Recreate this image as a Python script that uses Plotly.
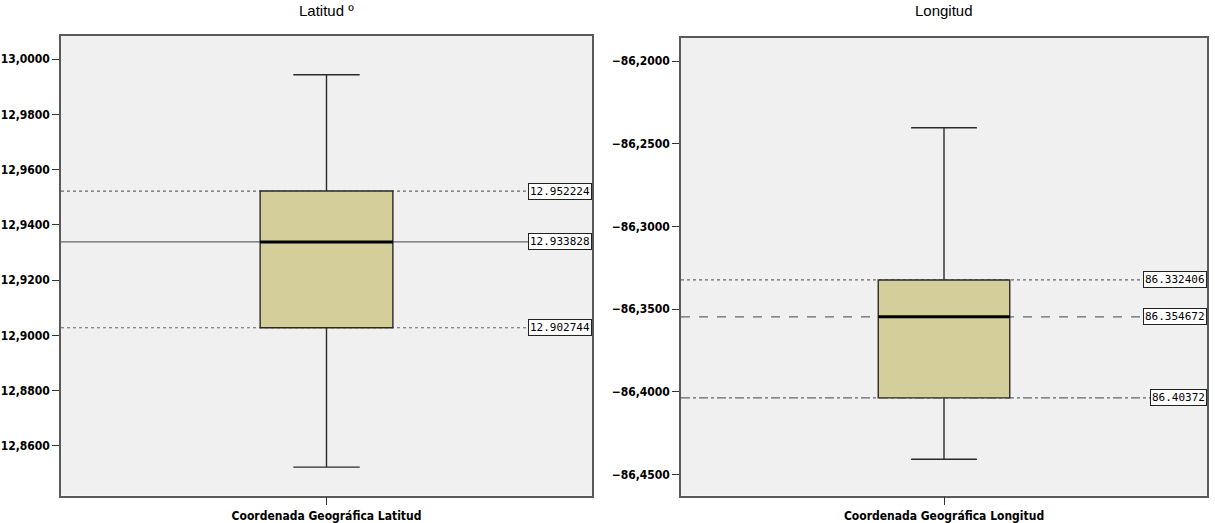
import plotly.graph_objects as go

# Summary statistics of the geographic coordinates
categories = ["Coordenada Geográfica Latitud", "Coordenada Geográfica Longitud"]
titles = ["Latitud º", "Longitud"]
q1_vals = [12.902744, -86.40372]
median_vals = [12.933828, -86.354672]
q3_vals = [12.952224, -86.332406]
lower_whisker = [12.8523, -86.4408]
upper_whisker = [12.9943, -86.2404]
y_ranges = [[12.8420, 13.0084], [-86.4628, -86.1860]]
tick_values = [
    [12.86, 12.88, 12.90, 12.92, 12.94, 12.96, 12.98, 13.00],
    [-86.45, -86.40, -86.35, -86.30, -86.25, -86.20],
]
# dash style of the Q3 / median / Q1 reference lines in each panel
ref_dashes = [["dot", "solid", "dot"], ["dot", "dash", "dashdot"]]

BOX_FILL = "#D3CE9A"
PLOT_BG = "#F0F0F0"
AXIS_FONT = "DejaVu Sans Condensed, Liberation Sans Narrow, Liberation Sans, sans-serif"
BOX_W = 0.25

x_domains = [[61 / 1215, 592 / 1215], [681 / 1215, 1207 / 1215]]
y_domains = [[1 - 497.5 / 523, 1 - 36 / 523], [1 - 497.5 / 523, 1 - 38 / 523]]

fig = go.Figure()
shapes = []
annotations = []

for i in range(2):
    xa = "x" if i == 0 else "x2"
    ya = "y" if i == 0 else "y2"
    fig.add_trace(go.Box(
        x=[categories[i]],
        q1=[q1_vals[i]], median=[median_vals[i]], q3=[q3_vals[i]],
        lowerfence=[lower_whisker[i]], upperfence=[upper_whisker[i]],
        width=BOX_W, whiskerwidth=0.5,
        fillcolor=BOX_FILL,
        line=dict(color="#2A2A2A", width=1.4),
        boxpoints=False, hoverinfo="skip",
        xaxis=xa, yaxis=ya, showlegend=False,
    ))

    # reference lines at Q3, median, Q1 with value labels on the right edge
    for val, dash in zip([q3_vals[i], median_vals[i], q1_vals[i]], ref_dashes[i]):
        label = str(abs(val))
        shapes.append(dict(
            type="line", layer="below",
            xref=f"{xa} domain", yref=ya,
            x0=0, x1=0.9, y0=val, y1=val,
            line=dict(color="#666666", width=1.2, dash=dash),
        ))
        annotations.append(dict(
            xref=f"{xa} domain", yref=ya, x=1, y=val,
            xanchor="right", yanchor="middle",
            text=label, showarrow=False,
            bgcolor="white", bordercolor="#222222", borderwidth=1, borderpad=1,
            font=dict(family="DejaVu Sans Mono", size=11, color="black"),
        ))

    # bold median line across the box
    shapes.append(dict(
        type="line", layer="above",
        xref=xa, yref=ya,
        x0=-BOX_W / 2, x1=BOX_W / 2, y0=median_vals[i], y1=median_vals[i],
        line=dict(color="black", width=3),
    ))

    # panel title
    annotations.append(dict(
        xref=f"{xa} domain", yref="paper", x=0.5, y=1 - 11 / 523,
        xanchor="center", yanchor="middle", text=titles[i], showarrow=False,
        font=dict(family="Liberation Sans, Arial, sans-serif", size=15, color="black"),
    ))

axis_common_x = dict(
    type="category", range=[-0.5, 0.5],
    showline=True, mirror=True, linecolor="#5A5A5A", linewidth=1.5,
    ticks="outside", ticklen=8, tickcolor="#333333",
    showgrid=False, zeroline=False, fixedrange=True,
    tickfont=dict(family=AXIS_FONT, size=12, color="black", weight="bold"),
)

fig.update_layout(
    width=1215, height=523,
    margin=dict(l=0, r=0, t=0, b=0),
    paper_bgcolor="white", plot_bgcolor=PLOT_BG,
    separators=",.",
    shapes=shapes, annotations=annotations,
    xaxis=dict(axis_common_x, domain=x_domains[0], anchor="y"),
    xaxis2=dict(axis_common_x, domain=x_domains[1], anchor="y2"),
)

for i, key in enumerate(["yaxis", "yaxis2"]):
    fig.update_layout({key: dict(
        domain=y_domains[i], range=y_ranges[i],
        anchor="x" if i == 0 else "x2",
        tickvals=tick_values[i], tickformat=".4f",
        showline=True, mirror=True, linecolor="#5A5A5A", linewidth=1.5,
        ticks="outside", ticklen=7, tickcolor="#333333",
        showgrid=False, zeroline=False, fixedrange=True,
        tickfont=dict(family=AXIS_FONT, size=12, color="black", weight="bold"),
    )})

fig.write_html("out.html")
